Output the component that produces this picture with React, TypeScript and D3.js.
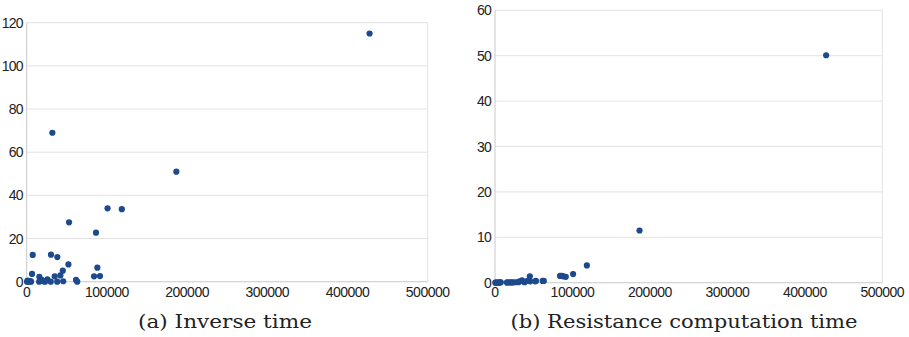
import React from 'react';
import * as d3 from 'd3';

// problem sizes (shared x values) and the two measured quantities
const sizes = [
  427500, 186600, 118600, 100800, 91400, 88100, 86400, 84000, 63000, 61500,
  52800, 52000, 45000, 45500, 42000, 38200, 38000, 34900, 32000, 30300,
  30000, 25800, 22900, 20800, 18700, 15800, 15500, 7500, 6650, 5400,
  4600, 3300, 2100, 400, 1200,
];
const inverseTime = [
  115, 51, 33.6, 34.0, 2.6, 6.5, 22.7, 2.5, 0, 0.8,
  27.5, 8.0, 5.1, 0.2, 2.9, 11.4, 0, 2.5, 69, 12.5,
  0, 1.1, 0, 0.2, 0.8, 2.3, 0, 12.4, 3.6, 0,
  0.3, 0.1, 0, 0, 0.5,
];
const resistanceTime = [
  50.1, 11.5, 3.8, 1.9, 1.3, 1.4, 1.5, 1.5, 0.4, 0.4,
  0.4, 0.3, 1.4, 0.3, 0.4, 0.2, 0.1, 0.5, 0.3, 0.2,
  0.1, 0.1, 0.05, 0.05, 0.05, 0.05, 0.02, 0.1, 0.05, 0.02,
  0.02, 0.01, 0.01, 0, 0,
];

const xTicks = [0, 100000, 200000, 300000, 400000, 500000];
const inverseTicks = [0, 20, 40, 60, 80, 100, 120];
const resistanceTicks = [0, 10, 20, 30, 40, 50, 60];

const captions = ['(a) Inverse time', '(b) Resistance computation time'];

const dotColor = '#1d4a8c';
const gridColor = '#e3e3e3';
const tickFont = '"Liberation Sans", Arial, sans-serif';

type PanelProps = {
  left: number;
  right: number;
  top: number;
  bottom: number;
  yTicks: number[];
  values: number[];
  caption: string;
  captionX: number;
  captionWidth: number;
};

function Panel({ left, right, top, bottom, yTicks, values, caption, captionX, captionWidth }: PanelProps) {
  const x = d3.scaleLinear().domain([0, 500000]).range([left, right]);
  const y = d3.scaleLinear().domain([0, d3.max(yTicks) as number]).range([bottom, top]);

  return (
    <g>
      {yTicks.map(t => (
        <line key={'g' + t} x1={left} x2={right} y1={y(t)} y2={y(t)} stroke={gridColor} strokeWidth={1} />
      ))}
      <line x1={left} x2={left} y1={top} y2={bottom} stroke="#c8c8c8" />
      <line x1={right} x2={right} y1={top} y2={bottom} stroke={gridColor} />
      <line x1={left} x2={right} y1={bottom} y2={bottom} stroke="#d0d0d0" />
      {yTicks.map(t => (
        <text key={'y' + t} x={left - 4} y={y(t) + 5} textAnchor="end" fontFamily={tickFont}
          fontSize={14} letterSpacing={-0.8} fill="#222">{t}</text>
      ))}
      {xTicks.map(t => (
        <text key={'x' + t} x={x(t)} y={297} textAnchor="middle" fontFamily={tickFont}
          fontSize={14} letterSpacing={-0.5} fill="#222">{t}</text>
      ))}
      {sizes.map((s, i) => (
        <circle key={i} cx={x(s)} cy={y(values[i])} r={3.1} fill={dotColor} />
      ))}
      <text x={captionX} y={328} textAnchor="middle" fontFamily='"DejaVu Serif", serif'
        fontSize={19} textLength={captionWidth} lengthAdjust="spacingAndGlyphs" fill="#222">{caption}</text>
    </g>
  );
}

export default function App() {
  return (
    <div style={{ position: 'absolute', left: 0, top: 0 }}>
      <svg width={909} height={337} style={{ display: 'block', background: '#fff' }}>
        <Panel left={26.7} right={427.7} top={22.7} bottom={281.7} yTicks={inverseTicks}
          values={inverseTime} caption={captions[0]} captionX={225} captionWidth={174} />
        <Panel left={495} right={882.3} top={10.3} bottom={282.7} yTicks={resistanceTicks}
          values={resistanceTime} caption={captions[1]} captionX={684} captionWidth={347} />
      </svg>
    </div>
  );
}
